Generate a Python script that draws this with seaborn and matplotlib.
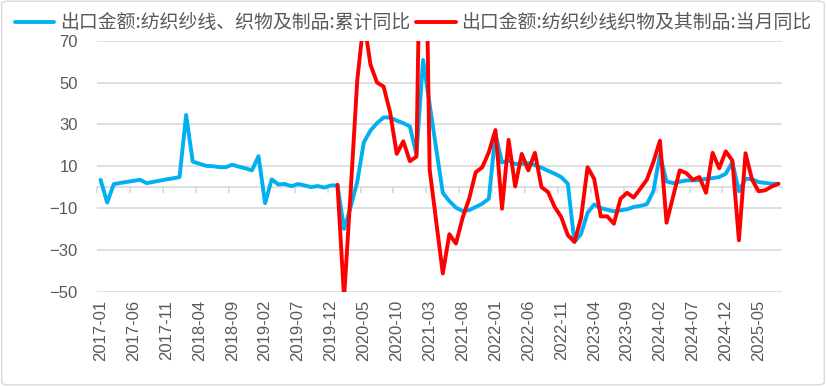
import matplotlib
matplotlib.use("Agg")
import matplotlib.pyplot as plt
from matplotlib.patches import FancyBboxPatch
import seaborn as sns
import numpy as np
import pandas as pd

# monthly categories, 2017-01 .. 2025-08
start_month = "2017-01"
red_start = "2020-01"

# 出口金额:纺织纱线、织物及制品:累计同比 (%)
cum_yoy = [3.5, -7.4, 1.4, 2.0, 2.5, 3.0, 3.5, 1.9, 2.5, 3.1, 3.7, 4.2,
           4.8, 34.5, 12.2, 11.2, 10.2, 10.0, 9.6, 9.5, 10.7, 9.8, 9.0, 8.0,
           14.8, -7.7, 3.7, 1.3, 1.5, 0.4, 1.5, 0.8, 0.0, 0.5, -0.2, 0.8,
           0.8, -20.0, -9.5, 2.5, 21.4, 27.0, 30.6, 33.3, 33.3, 31.8, 30.6, 29.0,
           15.5, 60.8, 39.6, 18.4, -2.7, -6.7, -9.8, -11.4, -11.0, -9.5, -7.9, -5.5,
           25.5, 11.8, 12.7, 11.1, 11.1, 11.5, 10.5, 9.3, 7.8, 6.4, 4.8, 1.6,
           -26.2, -22.5, -12.3, -8.3, -10.0, -10.8, -11.6, -11.1, -10.6, -9.5, -9.0, -8.2,
           -2.0, 15.5, 2.7, 1.9, 2.6, 3.2, 3.2, 3.4, 3.9, 4.3, 4.8, 6.4,
           11.9, -2.0, 4.0, 3.8, 2.4, 2.0, 1.6, 1.6]

# 出口金额:纺织纱线织物及其制品:当月同比 (%), from 2020-01
month_yoy = [1.1, -53.0, -2.0, 51.0, 80.0, 58.7, 50.0, 48.1, 35.7, 15.9, 21.9, 12.4,
             14.6, 210.0, 8.5, -16.5, -41.3, -22.5, -27.0, -14.8, -5.6, 7.1, 9.5, 16.7,
             27.3, -10.3, 22.6, 0.3, 15.9, 8.0, 16.4, 0.0, -2.4, -9.5, -14.3, -23.0,
             -26.2, -15.0, 9.5, 4.0, -14.0, -14.0, -17.5, -5.6, -2.7, -5.0, -0.8, 3.5,
             12.0, 22.2, -17.0, -4.5, 8.0, 6.7, 3.5, 4.8, -2.7, 16.4, 9.0, 17.1,
             12.7, -25.4, 16.2, 3.5, -2.0, -1.5, 0.3, 1.6]

label_cum = "出口金额:纺织纱线、织物及制品:累计同比"
label_month = "出口金额:纺织纱线织物及其制品:当月同比"
y_ticks = [-50, -30, -10, 10, 30, 50, 70]
label_step = 5

months = pd.date_range(start_month, periods=len(cum_yoy), freq="MS").strftime("%Y-%m")
offset = list(months).index(red_start)

df_cum = pd.DataFrame({"pos": np.arange(len(cum_yoy)), "val": cum_yoy})
df_month = pd.DataFrame({"pos": np.arange(offset, offset + len(month_yoy)), "val": month_yoy})

sns.set_theme(style="white")
plt.rcParams["font.family"] = ["Noto Sans CJK SC", "DejaVu Sans"]

grey_txt = "#595959"
grid_c = "#d9d9d9"

fig = plt.figure(figsize=(8.26, 3.86), dpi=100)
ax = fig.add_axes([97.3 / 826, 1 - 291.7 / 386, (781.7 - 97.3) / 826, (291.7 - 40.7) / 386])

sns.lineplot(data=df_cum, x="pos", y="val", ax=ax, color="#00b0f0", lw=2.8,
             label=label_cum, zorder=3)
sns.lineplot(data=df_month, x="pos", y="val", ax=ax, color="#ff0000", lw=2.8,
             label=label_month, zorder=4)

ax.set_xlim(-0.5, len(cum_yoy) - 0.5)
ax.set_ylim(min(y_ticks), max(y_ticks))
ax.set_yticks(y_ticks)
ax.set_xticks(np.arange(0, len(cum_yoy), label_step))
ax.set_xticklabels(months[::label_step], rotation=90, family="Liberation Sans",
                   fontsize=12, color=grey_txt)
for t in ax.get_yticklabels():
    t.set_family("Liberation Sans")
    t.set_fontsize(12)
    t.set_color(grey_txt)
ax.tick_params(axis="both", length=0)
ax.tick_params(axis="y", pad=14)
ax.tick_params(axis="x", pad=6)
ax.set_xlabel("")
ax.set_ylabel("")
ax.yaxis.grid(True, color=grid_c, lw=1.2)
ax.xaxis.grid(False)
ax.set_axisbelow(True)
for s in ax.spines.values():
    s.set_visible(False)

# category axis sitting on y = 0, ticks between categories
ylo, yhi = ax.get_ylim()
sec = ax.secondary_xaxis((0 - ylo) / (yhi - ylo))
sec.set_xticks(np.arange(-0.5, len(cum_yoy), label_step))
sec.set_xticklabels([])
sec.tick_params(axis="x", direction="out", length=4, width=1.2, color=grid_c)
for s in sec.spines.values():
    s.set_color(grid_c)
    s.set_linewidth(1.2)

handles, labels = ax.get_legend_handles_labels()
ax.get_legend().remove()
fig.legend(handles, labels, loc="upper center", bbox_to_anchor=(0.5, 1.012), ncol=2,
           frameon=False, fontsize=13.6, handlelength=2.1, handletextpad=0.3,
           columnspacing=0.3, labelcolor=grey_txt)

fig.patches.append(FancyBboxPatch((0.002, 0.003), 0.996, 0.994,
                                  boxstyle="round,pad=0,rounding_size=0.008",
                                  transform=fig.transFigure, fill=False,
                                  ec=grid_c, lw=1.0))

fig.savefig("out.png", dpi=100)
